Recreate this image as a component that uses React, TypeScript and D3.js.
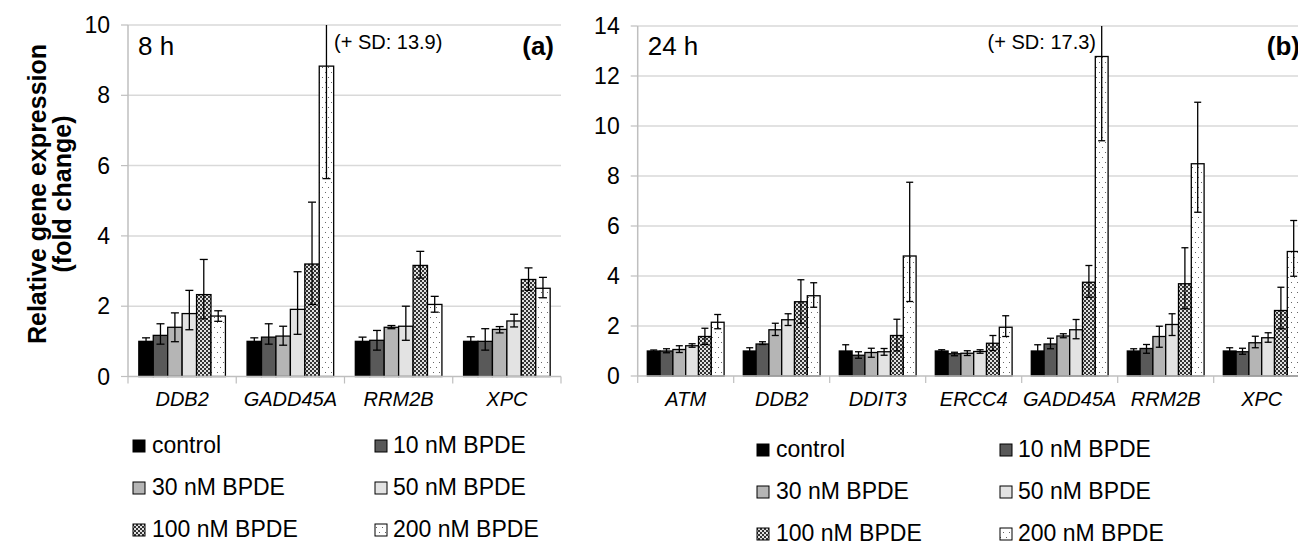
import React from "react";
import * as d3 from "d3";

const series = ["control", "10 nM BPDE", "30 nM BPDE", "50 nM BPDE", "100 nM BPDE", "200 nM BPDE"];

// 8 h panel
const genes8 = ["DDB2", "GADD45A", "RRM2B", "XPC"];
const mean8 = [
  [1.0, 1.0, 1.0, 1.0],
  [1.17, 1.12, 1.03, 1.0],
  [1.4, 1.15, 1.4, 1.34],
  [1.79, 1.91, 1.43, 1.58],
  [2.33, 3.2, 3.16, 2.76],
  [1.72, 8.83, 2.05, 2.51],
];
const hi8 = [
  [1.1, 1.1, 1.12, 1.13],
  [1.5, 1.5, 1.31, 1.36],
  [1.81, 1.43, 1.45, 1.42],
  [2.45, 2.98, 2.0, 1.77],
  [3.33, 4.96, 3.56, 3.09],
  [1.87, 13.9, 2.28, 2.82],
];
const lo8 = [
  [0.9, 0.9, 0.9, 0.9],
  [0.92, 0.92, 0.75, 0.75],
  [0.99, 0.89, 1.36, 1.24],
  [1.33, 1.2, 1.03, 1.41],
  [1.64, 2.05, 2.8, 2.45],
  [1.57, 5.63, 1.83, 2.24],
];
const ticks8 = [0, 2, 4, 6, 8, 10];

// 24 h panel
const genes24 = ["ATM", "DDB2", "DDIT3", "ERCC4", "GADD45A", "RRM2B", "XPC"];
const mean24 = [
  [1.0, 1.0, 1.0, 1.0, 1.0, 1.0, 1.0],
  [1.0, 1.28, 0.83, 0.89, 1.28, 1.1, 0.97],
  [1.06, 1.85, 0.94, 0.91, 1.6, 1.58, 1.33],
  [1.21, 2.25, 0.97, 0.98, 1.85, 2.06, 1.53],
  [1.58, 2.97, 1.62, 1.31, 3.75, 3.69, 2.62],
  [2.15, 3.21, 4.8, 1.95, 12.78, 8.49, 4.98],
];
const hi24 = [
  [1.04, 1.13, 1.25, 1.05, 1.25, 1.09, 1.13],
  [1.09, 1.37, 0.97, 0.95, 1.51, 1.26, 1.11],
  [1.21, 2.11, 1.11, 1.01, 1.69, 1.99, 1.59],
  [1.29, 2.49, 1.1, 1.05, 2.26, 2.49, 1.73],
  [1.91, 3.85, 2.27, 1.62, 4.42, 5.13, 3.55],
  [2.46, 3.73, 7.75, 2.41, 17.3, 10.95, 6.22],
];
const lo24 = [
  [0.96, 0.94, 0.8, 0.97, 0.82, 0.95, 0.94],
  [0.93, 1.26, 0.71, 0.81, 1.09, 0.91, 0.87],
  [0.94, 1.62, 0.75, 0.82, 1.53, 1.15, 1.13],
  [1.15, 2.02, 0.83, 0.91, 1.49, 1.62, 1.35],
  [1.26, 2.11, 1.0, 1.02, 3.15, 2.69, 1.89],
  [1.89, 2.75, 2.98, 1.58, 9.41, 6.55, 3.99],
];
const ticks24 = [0, 2, 4, 6, 8, 10, 12, 14];

const fills = ["#000000", "#595959", "#b5b5b5", "#e3e3e3", "url(#checker)", "url(#dots)"];
const font = "'Liberation Sans', Arial, sans-serif";

type PanelProps = {
  genes: string[];
  mean: number[][];
  hi: number[][];
  lo: number[][];
  ticks: number[];
  x0: number;
  x1: number;
  yTop: number;
  yBot: number;
  tag: string;
  time: string;
  note: string;
  noteX: number;
  noteAnchor: string;
  tagX: number;
  capW: number;
};

const Panel = (p: PanelProps) => {
  const yMax = p.ticks[p.ticks.length - 1];
  const y = d3.scaleLinear().domain([0, yMax]).range([p.yBot, p.yTop]);
  const x = d3.scaleBand().domain(p.genes).range([p.x0, p.x1]).paddingInner(0.2).paddingOuter(0.1);
  const xs = d3.scaleBand().domain(series.map((_, i) => String(i))).range([0, x.bandwidth()]);
  const step = x.step();
  const clipY = (v: number) => Math.max(p.yTop, y(v));

  return (
    <g>
      {p.ticks.map((t) => (
        <g key={t}>
          {t > 0 && (
            <line x1={p.x0} x2={p.x1} y1={y(t)} y2={y(t)} stroke="#d9d9d9" strokeWidth={1.5} />
          )}
          <line x1={p.x0 - 7} x2={p.x0} y1={y(t)} y2={y(t)} stroke="#bfbfbf" strokeWidth={1.2} />
          <text x={p.x0 - 18} y={y(t) + 8} textAnchor="end" fontSize={23} fontFamily={font} fill="#000">
            {t}
          </text>
        </g>
      ))}
      <line x1={p.x0} x2={p.x0} y1={p.yTop} y2={p.yBot} stroke="#bfbfbf" strokeWidth={1.5} />

      {p.genes.map((g, ci) => (
        <g key={g}>
          {series.map((s, si) => {
            const bx = (x(g) as number) + (xs(String(si)) as number);
            const bw = xs.bandwidth();
            const v = p.mean[si][ci];
            const cx = bx + bw / 2;
            const yh = y(p.hi[si][ci]);
            return (
              <g key={s}>
                <rect
                  x={bx}
                  y={y(v)}
                  width={bw}
                  height={p.yBot - y(v)}
                  fill={fills[si]}
                  stroke="#000"
                  strokeWidth={1.3}
                />
                <line x1={cx} x2={cx} y1={clipY(p.hi[si][ci])} y2={y(p.lo[si][ci])} stroke="#000" strokeWidth={1.3} />
                {yh >= p.yTop && (
                  <line x1={cx - p.capW / 2} x2={cx + p.capW / 2} y1={yh} y2={yh} stroke="#000" strokeWidth={1.3} />
                )}
                <line
                  x1={cx - p.capW / 2}
                  x2={cx + p.capW / 2}
                  y1={y(p.lo[si][ci])}
                  y2={y(p.lo[si][ci])}
                  stroke="#000"
                  strokeWidth={1.3}
                />
              </g>
            );
          })}
          <text
            x={(x(g) as number) + x.bandwidth() / 2}
            y={406}
            textAnchor="middle"
            fontSize={20}
            fontStyle="italic"
            fontFamily={font}
          >
            {g}
          </text>
        </g>
      ))}

      <line x1={p.x0} x2={p.x1} y1={p.yBot} y2={p.yBot} stroke="#bfbfbf" strokeWidth={1.5} />
      {d3.range(p.genes.length + 1).map((i) => (
        <line
          key={i}
          x1={p.x0 + i * step}
          x2={p.x0 + i * step}
          y1={p.yBot}
          y2={p.yBot + 7}
          stroke="#bfbfbf"
          strokeWidth={1.2}
        />
      ))}

      <text x={p.x0 + 10} y={55} fontSize={26} fontFamily={font}>
        {p.time}
      </text>
      <text x={p.tagX} y={55} fontSize={26} fontWeight="bold" textAnchor="end" fontFamily={font}>
        {p.tag}
      </text>
      <text x={p.noteX} y={49} fontSize={20} textAnchor={p.noteAnchor} fontFamily={font}>
        {p.note}
      </text>
    </g>
  );
};

const Legend = ({ x1, x2, tx1, tx2, base, gap }: { x1: number; x2: number; tx1: number; tx2: number; base: number; gap: number }) => (
  <g>
    {series.map((s, i) => {
      const col = i % 2;
      const row = Math.floor(i / 2);
      const by = base + row * gap;
      return (
        <g key={s}>
          <rect
            x={col === 0 ? x1 : x2}
            y={by - 13}
            width={12}
            height={12}
            fill={fills[i]}
            stroke="#000"
            strokeWidth={1}
          />
          <text x={col === 0 ? tx1 : tx2} y={by} fontSize={23} fontFamily={font}>
            {s}
          </text>
        </g>
      );
    })}
  </g>
);

export default function App() {
  return (
    <div style={{ position: "absolute", left: 0, top: 0 }}>
      <svg width={1298} height={541} style={{ display: "block", background: "#fff" }}>
        <defs>
          <pattern id="checker" width={4} height={4} patternUnits="userSpaceOnUse">
            <rect width={4} height={4} fill="#e0e0e0" />
            <rect width={2} height={2} fill="#333" />
            <rect x={2} y={2} width={2} height={2} fill="#333" />
          </pattern>
          <pattern id="dots" width={6} height={10} patternUnits="userSpaceOnUse">
            <rect width={6} height={10} fill="#fff" />
            <rect x={1} y={2} width={1} height={1} fill="#666" />
            <rect x={4} y={7} width={1} height={1} fill="#666" />
          </pattern>
        </defs>

        <g transform="translate(0,194)">
          <text transform="rotate(-90)" x={0} y={46} textAnchor="middle" fontSize={25} fontWeight="bold" fontFamily={font}>
            Relative gene expression
          </text>
          <text transform="rotate(-90)" x={0} y={71} textAnchor="middle" fontSize={25} fontWeight="bold" fontFamily={font}>
            (fold change)
          </text>
        </g>

        <Panel
          genes={genes8}
          mean={mean8}
          hi={hi8}
          lo={lo8}
          ticks={ticks8}
          x0={128}
          x1={561}
          yTop={25}
          yBot={376.5}
          tag="(a)"
          time="8 h"
          note="(+ SD: 13.9)"
          noteX={334}
          noteAnchor="start"
          tagX={554}
          capW={8}
        />
        <Panel
          genes={genes24}
          mean={mean24}
          hi={hi24}
          lo={lo24}
          ticks={ticks24}
          x0={637.7}
          x1={1309.7}
          yTop={26}
          yBot={376}
          tag="(b)"
          time="24 h"
          note="(+ SD: 17.3)"
          noteX={1096}
          noteAnchor="end"
          tagX={1300}
          capW={7}
        />

        <Legend x1={133} x2={375} tx1={152} tx2={393} base={453} gap={42} />
        <Legend x1={757} x2={1000} tx1={776} tx2={1018} base={457} gap={42} />
      </svg>
    </div>
  );
}
